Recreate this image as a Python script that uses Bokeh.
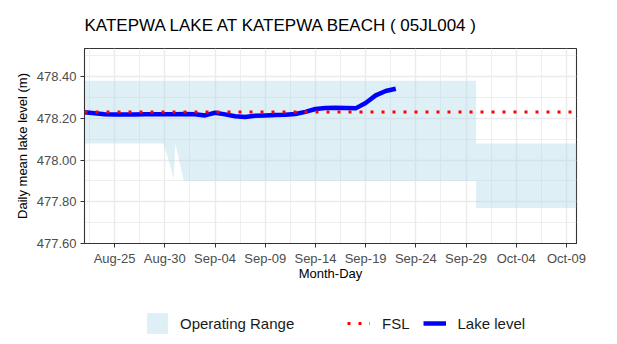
import pandas as pd
from bokeh.plotting import figure
from bokeh.layouts import column
from bokeh.models import Range1d, FixedTicker, DatetimeTickFormatter, PrintfTickFormatter, Legend, LegendItem
from bokeh.embed import file_html
from bokeh.resources import INLINE

FONT = "Liberation Sans"

title_text = "KATEPWA LAKE AT KATEPWA BEACH ( 05JL004 )"
x_label = "Month-Day"
y_label = "Daily mean lake level (m)"

# Daily mean lake level (m), Aug 22 .. Sep 22
lake_dates = pd.date_range("2023-08-22", "2023-09-22", freq="D")
lake_level = [478.229, 478.224, 478.220, 478.219, 478.219, 478.219, 478.220, 478.220,
              478.220, 478.220, 478.221, 478.220, 478.214, 478.227, 478.219, 478.210,
              478.207, 478.213, 478.214, 478.216, 478.217, 478.221, 478.231, 478.245,
              478.250, 478.251, 478.250, 478.248, 478.274, 478.310, 478.331, 478.342]

# Full supply level
fsl_dates = pd.to_datetime(["2023-08-22", "2023-10-10"])
fsl_level = [478.23, 478.23]

# Operating range
band_dates = pd.to_datetime(["2023-08-22 00:00", "2023-08-29 21:30", "2023-08-30 21:30",
                             "2023-08-31 01:00", "2023-08-31 21:30", "2023-09-30 00:00",
                             "2023-09-30 00:00", "2023-10-10 00:00"])
band_upper = [478.38, 478.38, 478.38, 478.38, 478.38, 478.38, 478.08, 478.08]
band_lower = [478.08, 478.08, 477.91, 478.08, 477.90, 477.90, 477.77, 477.77]

x_start, x_end = pd.Timestamp("2023-08-22"), pd.Timestamp("2023-10-10")
y_start, y_end = 477.60, 478.535

x_major = ["2023-08-25", "2023-08-30", "2023-09-04", "2023-09-09", "2023-09-14",
           "2023-09-19", "2023-09-24", "2023-09-29", "2023-10-04", "2023-10-09"]
x_minor = ["2023-08-22 12:00", "2023-08-27 12:00", "2023-09-01 12:00", "2023-09-06 12:00",
           "2023-09-11 12:00", "2023-09-16 12:00", "2023-09-21 12:00", "2023-09-26 12:00",
           "2023-10-01 12:00", "2023-10-06 12:00"]
y_major = [477.6, 477.8, 478.0, 478.2, 478.4]
y_minor = [477.7, 477.9, 478.1, 478.3, 478.5]


def ms(s):
    return pd.Timestamp(s).value // 10**6


p = figure(width=617, height=300, output_backend="svg", toolbar_location=None,
           x_axis_type="datetime",
           x_range=Range1d(x_start, x_end), y_range=Range1d(y_start, y_end),
           min_border_left=84, min_border_right=41, min_border_top=48, min_border_bottom=57,
           title=title_text)
p.background_fill_color = "white"
p.border_fill_color = "white"
p.outline_line_color = "#333333"
p.outline_line_width = 1.1

p.title.text_font = FONT
p.title.text_font_size = "17px"
p.title.text_font_style = "normal"
p.title.text_color = "black"
p.title.align = "left"
p.title.standoff = 27

band_style = dict(fill_color="#ADD8E6", fill_alpha=0.4)
lake_style = dict(line_color="#0000FF", line_width=4.5, line_join="round")
fsl_style = dict(line_color="#FF0000", line_width=3, line_dash="3 8")

band = p.varea(x=band_dates, y1=band_lower, y2=band_upper, **band_style)
lake = p.line(x=lake_dates, y=lake_level, **lake_style)
fsl = p.line(x=fsl_dates, y=fsl_level, **fsl_style)

p.xaxis.ticker = FixedTicker(ticks=[ms(d) for d in x_major], minor_ticks=[ms(d) for d in x_minor])
p.xaxis.formatter = DatetimeTickFormatter(days="%b-%d", months="%b-%d", hours="%b-%d",
                                          minutes="%b-%d", years="%b-%d")
p.yaxis.ticker = FixedTicker(ticks=y_major, minor_ticks=y_minor)
p.yaxis.formatter = PrintfTickFormatter(format="%.2f")

for ax in (p.xaxis, p.yaxis):
    ax.axis_line_color = "#333333"
    ax.major_tick_line_color = "#333333"
    ax.major_tick_out = 4
    ax.major_tick_in = 0
    ax.minor_tick_line_color = None
    ax.major_label_text_font = FONT
    ax.major_label_text_font_size = "13px"
    ax.major_label_text_color = "#4D4D4D"
    ax.axis_label_text_font = FONT
    ax.axis_label_text_font_size = "13px"
    ax.axis_label_text_font_style = "normal"
    ax.axis_label_text_color = "black"
    ax.major_label_standoff = 4

p.xaxis.axis_label = x_label
p.yaxis.axis_label = y_label
p.xaxis.major_label_standoff = 3
p.xaxis.axis_label_standoff = -3
p.yaxis.axis_label_standoff = 4

for g in (p.xgrid, p.ygrid):
    g.grid_line_color = "#EBEBEB"
    g.grid_line_width = 1.4
    g.minor_grid_line_color = "#EBEBEB"
    g.minor_grid_line_width = 0.8

# Legend strip below the plot (ggplot-style bottom legends); its frame is aligned with the plot frame
lg = figure(width=617, height=44, output_backend="svg", toolbar_location=None,
            x_axis_location=None, y_axis_location=None, min_border=0,
            x_range=Range1d(x_start, x_end), y_range=Range1d(0, 1))
lg.outline_line_color = None
lg.grid.visible = False
lg_band = lg.varea(x=band_dates, y1=band_lower, y2=band_upper, visible=False, **band_style)
lg_lake = lg.line(x=lake_dates, y=lake_level, visible=False, **lake_style)
lg_fsl = lg.line(x=fsl_dates, y=fsl_level, visible=False, **fsl_style)

common = dict(orientation="horizontal", glyph_height=26, label_height=26,
              padding=0, margin=0, border_line_color=None, background_fill_alpha=0,
              label_text_font=FONT, label_text_font_size="15px", label_text_color="#1A1A1A",
              click_policy="none")
leg_a = Legend(items=[LegendItem(label="Operating Range", renderers=[lg_band])],
               location=(60, 8), glyph_width=26, label_standoff=10, **common)
leg_b = Legend(items=[LegendItem(label="FSL", renderers=[lg_fsl]),
                      LegendItem(label="Lake level", renderers=[lg_lake])],
               location=(263, 8), glyph_width=23, label_standoff=12, spacing=13, **common)
lg.add_layout(leg_a, "center")
lg.add_layout(leg_b, "center")

layout = column(p, lg, spacing=0)
open("out.html", "w").write(file_html(layout, INLINE))
